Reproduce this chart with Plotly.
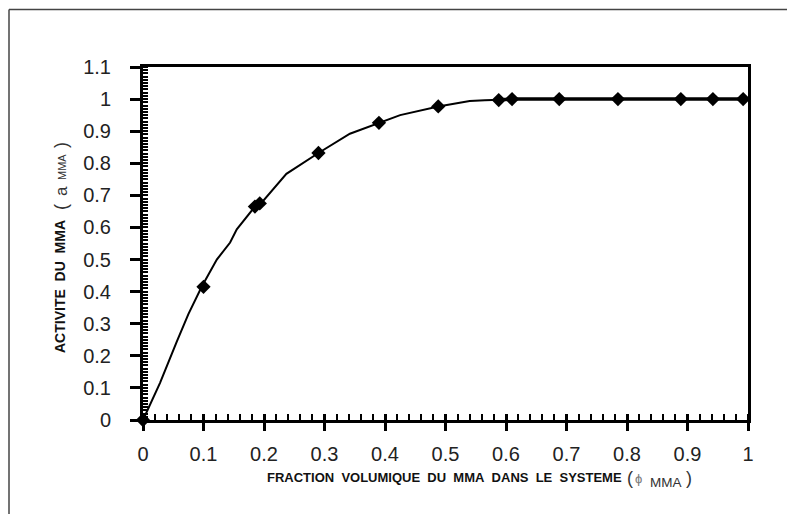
import plotly.graph_objects as go

# Smooth curve
curve_x = [0, 0.028, 0.056, 0.075, 0.097, 0.122, 0.144, 0.155, 0.185, 0.195,
           0.237, 0.29, 0.342, 0.392, 0.425, 0.488, 0.54, 0.565, 0.59]
curve_y = [0, 0.115, 0.245, 0.33, 0.415, 0.50, 0.553, 0.594, 0.665, 0.675,
           0.767, 0.832, 0.892, 0.926, 0.950, 0.977, 0.994, 0.996, 0.998]

# Plateau part of the curve
plateau_x = [0.59, 0.61, 0.688, 0.785, 0.889, 0.942, 0.995]
plateau_y = [0.998, 1.0, 1.0, 1.0, 1.0, 1.0, 1.0]

# Measured points (diamonds)
pts_x = [0, 0.1, 0.185, 0.193, 0.29, 0.39, 0.488, 0.588, 0.61, 0.688, 0.785, 0.889, 0.942, 0.992]
pts_y = [0, 0.415, 0.665, 0.675, 0.832, 0.926, 0.977, 0.997, 1.0, 1.0, 1.0, 1.0, 1.0, 1.0]

x_ticks = [0, 0.1, 0.2, 0.3, 0.4, 0.5, 0.6, 0.7, 0.8, 0.9, 1]
x_labels = ["0", "0.1", "0.2", "0.3", "0.4", "0.5", "0.6", "0.7", "0.8", "0.9", "1"]
y_ticks = [0, 0.1, 0.2, 0.3, 0.4, 0.5, 0.6, 0.7, 0.8, 0.9, 1.0, 1.1]
y_labels = ["0", "0.1", "0.2", "0.3", "0.4", "0.5", "0.6", "0.7", "0.8", "0.9", "1", "1.1"]

FONT = "Liberation Sans, Arial, sans-serif"

# page geometry (page has an 8px body margin)
L, T, W, H = 143, 67, 605, 353
FW, FH = 787, 506


def px(p):
    return (p - L) / W


def py(p):
    return (T + H - p) / H


fig = go.Figure()
fig.add_trace(go.Scatter(x=curve_x, y=curve_y, mode="lines",
                         line=dict(color="black", width=2), cliponaxis=False,
                         showlegend=False, hoverinfo="skip"))
fig.add_trace(go.Scatter(x=plateau_x, y=plateau_y, mode="lines",
                         line=dict(color="black", width=3.5), cliponaxis=False,
                         showlegend=False, hoverinfo="skip"))
fig.add_trace(go.Scatter(x=pts_x, y=pts_y, mode="markers",
                         marker=dict(symbol="diamond", size=11, color="black"),
                         cliponaxis=False, showlegend=False))
# invisible trace to activate the overlay axis (crossing major ticks)
fig.add_trace(go.Scatter(x=[0, 1], y=[0, 0], xaxis="x2", mode="markers",
                         marker=dict(opacity=0), showlegend=False, hoverinfo="skip"))

fig.update_layout(
    width=FW, height=FH,
    margin=dict(l=L - 8, r=FW - (L - 8) - W, t=T - 8, b=FH - (T - 8) - H),
    paper_bgcolor="white", plot_bgcolor="white",
    font=dict(family=FONT, color="#222"),
    xaxis=dict(range=[0, 1], tickvals=x_ticks, ticktext=x_labels,
               ticks="outside", ticklen=8, tickwidth=3, tickcolor="black",
               showline=True, linewidth=3, linecolor="black", mirror=True,
               showgrid=False, zeroline=False,
               tickfont=dict(size=20, color="#222"), ticklabelstandoff=6,
               minor=dict(dtick=0.02, tick0=0, ticks="inside", ticklen=6,
                          tickwidth=2, tickcolor="black", showgrid=False)),
    xaxis2=dict(range=[0, 1], overlaying="x", matches="x", side="bottom",
                tickvals=x_ticks, ticks="inside", ticklen=6, tickwidth=3,
                tickcolor="black", showticklabels=False, showline=False,
                showgrid=False, zeroline=False),
    yaxis=dict(range=[0, 1.1], tickvals=y_ticks, ticktext=y_labels,
               ticks="outside", ticklen=10, tickwidth=3, tickcolor="black",
               showline=True, linewidth=3, linecolor="black", mirror=True,
               showgrid=False, zeroline=False,
               tickfont=dict(size=20, color="#222"), ticklabelstandoff=15,
               minor=dict(dtick=0.01, tick0=0, ticks="inside", ticklen=5,
                          tickwidth=2, tickcolor="black", showgrid=False)),
    shapes=[dict(type="line", xref="paper", yref="paper",
                 x0=px(9), x1=px(900), y0=py(9.5), y1=py(9.5),
                 line=dict(color="#444", width=1.5), layer="below"),
            dict(type="line", xref="paper", yref="paper",
                 x0=px(9), x1=px(9), y0=py(9.5), y1=py(700),
                 line=dict(color="#444", width=1.5), layer="below")],
)

SP = "\u00a0\u00a0"


def ann(text, x, y, size, color="#111", angle=0, bold=False):
    fig.add_annotation(text=("<b>%s</b>" % text) if bold else text,
                       xref="paper", yref="paper", x=px(x), y=py(y),
                       showarrow=False, xanchor="center", yanchor="middle",
                       textangle=angle,
                       font=dict(family=FONT, size=size, color=color))


# x-axis title pieces
ann("FRACTION" + SP + "VOLUMIQUE" + SP + "DU" + SP + "MMA" + SP + "DANS" + SP +
    "LE" + SP + "SYSTEME", 444, 477, 13, bold=True)
ann("(", 629.5, 478, 18, color="#333")
ann("\u03d5", 638.5, 478, 13, color="#777")
ann("MMA", 666, 482, 13.5, color="#333")
ann(")", 689, 478, 18, color="#333")

# y-axis title pieces
ann("ACTIVITE" + SP + "DU" + SP + "MMA", 60, 287, 14, angle=-90, bold=True)
ann("(", 61, 207, 18, color="#333", angle=-90)
ann("a", 61, 191, 17, color="#333", angle=-90)
ann("MMA", 62, 167, 11, color="#333", angle=-90)
ann(")", 61, 145, 18, color="#333", angle=-90)

fig.write_html("out.html")
